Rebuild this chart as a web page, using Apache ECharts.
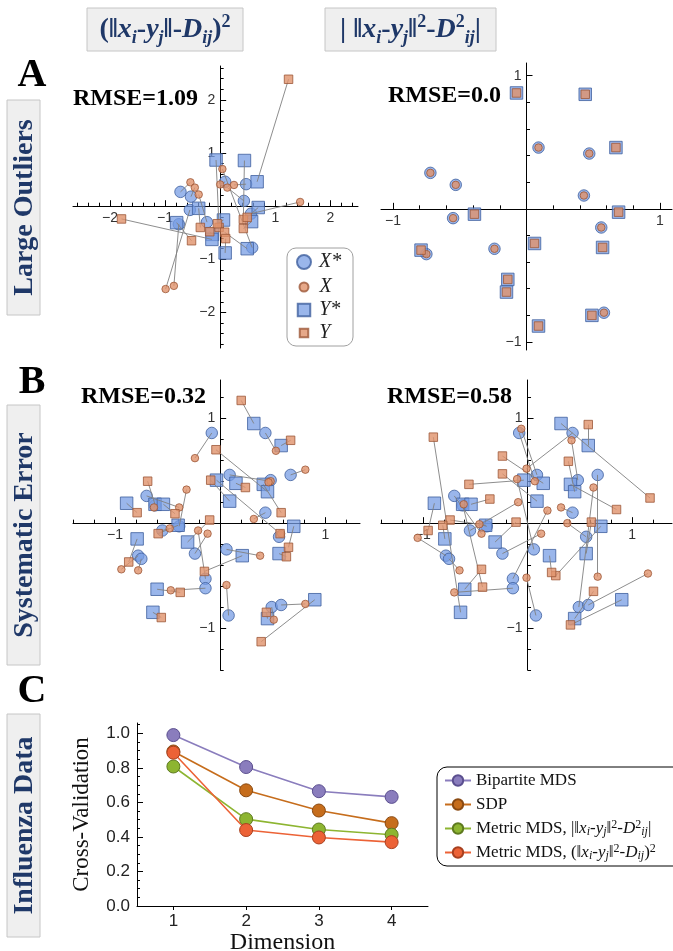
<!DOCTYPE html>
<html>
<head>
<meta charset="utf-8">
<script src="https://cdn.jsdelivr.net/npm/echarts@6.0.0/dist/echarts.min.js"></script>
<style>
html,body{margin:0;padding:0;background:#fff}
#main{width:673px;height:951px}
</style>
</head>
<body>
<div id="main"></div>
<script>
// ---- data ----
// row A: true positions (shared by both panels)
const xTrueA = [[-0.72,0.27],[-0.53,0.18],[0.09,0.46],[0.47,0.415],[0.43,0.10],[-0.55,-0.07],[0.56,-0.14],[-0.24,-0.30],[-0.75,-0.34],[0.58,-0.78]];
const yTrueA = [[-0.075,0.87],[0.44,0.86],[0.67,0.46],[0.69,-0.025],[-0.39,-0.04],[-0.79,-0.31],[0.06,-0.26],[0.57,-0.29],[-0.14,-0.53],[-0.15,-0.625],[0.49,-0.80],[0.09,-0.88]];
// row A left fit (RMSE 1.09), same order as the true points
const xFitA1 = [[-0.54,0.45],[-0.46,0.35],[0.0,0.41],[0.25,0.40],[0.13,0.35],[-0.99,-1.56],[1.45,0.08],[-0.39,0.22],[-0.84,-1.50],[0.04,0.70]];
const yFitA1 = [[-0.02,-0.40],[0.42,-0.25],[1.24,2.39],[0.49,-0.21],[-0.36,-0.40],[-0.52,-0.65],[-0.05,-0.33],[0.42,-0.42],[-0.19,-0.48],[-1.79,-0.24],[0.08,-0.49],[0.10,-0.61]];
// row A right fit (RMSE 0.0) lands on the true points
const xFitA2 = xTrueA;
const yFitA2 = yTrueA;

// row B: true positions
const xTrueB = [[-0.08,0.86],[-0.70,0.26],[-0.39,-0.03],[-0.55,-0.07],[-0.78,-0.31],[-0.75,-0.34],[-0.24,-0.29],[-0.14,-0.53],[-0.14,-0.62],[0.43,0.86],[0.09,0.46],[0.43,0.10],[0.67,0.46],[0.06,-0.25],[0.08,-0.88],[0.49,-0.80],[0.58,-0.78],[0.56,-0.13],[0.48,0.41],[-0.62,0.17]];
const yTrueB = [[-0.89,0.19],[-0.62,0.18],[-0.54,0.18],[-0.40,-0.02],[-0.79,-0.15],[-0.31,-0.18],[-0.60,-0.63],[-0.64,-0.85],[-0.035,0.41],[0.32,0.95],[0.58,0.74],[0.15,0.38],[0.41,0.37],[0.45,0.30],[0.09,0.21],[0.70,-0.03],[0.21,-0.31],[0.56,-0.29],[0.45,-0.91],[0.90,-0.73]];
// row B left fit (RMSE 0.32)
const xFitB1 = [[-0.24,0.62],[-0.39,0.15],[-0.32,0.32],[-0.48,-0.05],[-0.94,-0.44],[-0.78,-0.45],[-0.12,-0.10],[-0.21,-0.07],[-0.47,-0.64],[0.53,0.69],[0.48,0.40],[0.32,0.04],[0.81,0.51],[0.38,-0.31],[0.06,-0.59],[0.51,-0.92],[0.81,-0.77],[0.58,-0.10],[0.46,0.39],[-0.63,0.15]];
const yFitB1 = [[-0.79,0.10],[-0.69,0.40],[-0.43,0.09],[-0.59,-0.10],[-0.87,-0.37],[-0.10,0.03],[-0.38,-0.66],[-0.56,-0.90],[0.57,-0.10],[0.20,1.17],[0.67,0.79],[0.24,0.34],[0.58,0.10],[-0.04,0.70],[-0.09,0.41],[0.65,-0.23],[-0.15,-0.46],[0.63,-0.32],[0.44,-0.85],[0.39,-1.13]];
// row B right fit (RMSE 0.58)
const xFitB2 = [[0.07,0.40],[-0.44,-0.10],[-0.46,-0.01],[-0.09,0.20],[-1.05,-0.14],[-0.65,-0.45],[0.13,-0.10],[0.19,0.12],[-0.70,-0.66],[-0.01,0.52],[-0.06,0.90],[0.32,0.15],[0.67,-0.51],[-0.10,0.42],[-0.01,-0.52],[0.63,0.34],[1.15,-0.48],[0.38,0.00],[0.42,0.79],[-0.61,0.18]];
const yFitB2 = [[-0.95,-0.07],[-0.43,-0.61],[-0.36,0.23],[-0.74,0.03],[-0.81,-0.02],[-0.11,0.01],[-0.44,-0.44],[-0.90,0.82],[-0.56,0.37],[1.17,0.24],[0.58,0.94],[-0.24,0.64],[0.85,0.13],[0.39,0.59],[-0.24,0.47],[0.27,-0.50],[0.23,-0.47],[0.61,0.01],[0.63,-0.65],[0.41,-0.97]];

const rmseLabels = ['RMSE=1.09', 'RMSE=0.0', 'RMSE=0.32', 'RMSE=0.58'];
const tickLblA1 = [-2, -1, 1, 2];
const tickLblUnit = [-1, 1];

// row C: cross-validation vs dimension
const dims = [1, 2, 3, 4];
const cvBipartite = [0.99, 0.805, 0.665, 0.632];
const cvSDP = [0.895, 0.67, 0.553, 0.48];
const cvMetricAbs = [0.808, 0.503, 0.443, 0.413];
const cvMetricSq = [0.888, 0.44, 0.397, 0.37];
const cvTicks = [0, 0.2, 0.4, 0.6, 0.8, 1.0];
const methods = ['Bipartite MDS', 'SDP', 'Metric MDS, |‖xi-yj‖²-Dij²|', 'Metric MDS, (‖xi-yj‖²-Dij)²'];

// ---- helpers ----
const steps = (a, b, d) => { const r = []; for (let v = a; v <= b + 1e-9; v += d) r.push(+v.toFixed(2)); return r; };
const fmtTick = v => v < 0 ? '\u2212' + (-v) : String(v);
const navy = '#1f3868';
const serif = '"Liberation Serif", "DejaVu Serif", serif';
const blue = {color: 'rgba(118,156,228,0.92)', borderColor: '#3f5f9e', borderWidth: 1};
const orange = {color: '#e0926c', borderColor: '#9c5738', borderWidth: 1};

const panels = [
  {grid: {left: 73, top: 66, width: 285, height: 282}, x: [-2.67, 2.5], y: [-2.67, 2.64], lbl: tickLblA1,
   mx: steps(-2.6, 2.4, 0.2), my: steps(-2.6, 2.6, 0.2), xt: xTrueA, yt: yTrueA, xf: xFitA1, yf: yFitA1},
  {grid: {left: 381, top: 63, width: 291, height: 287}, x: [-1.09, 1.09], y: [-1.06, 1.095], lbl: tickLblUnit,
   mx: steps(-1, 1, 0.2), my: steps(-1, 1, 0.2), xt: xTrueA, yt: yTrueA, xf: xFitA2, yf: yFitA2},
  {grid: {left: 73, top: 380, width: 287, height: 290}, x: [-1.4, 1.33], y: [-1.4, 1.365], lbl: tickLblUnit,
   mx: steps(-1.4, 1.2, 0.2), my: steps(-1.4, 1.2, 0.2), xt: xTrueB, yt: yTrueB, xf: xFitB1, yf: yFitB1},
  {grid: {left: 381, top: 380, width: 291, height: 290}, x: [-1.4, 1.38], y: [-1.4, 1.365], lbl: tickLblUnit,
   mx: steps(-1.4, 1.2, 0.2), my: steps(-1.4, 1.2, 0.2), xt: xTrueB, yt: yTrueB, xf: xFitB2, yf: yFitB2}
];

// axes cross at the origin: shift each axis from its grid edge to where the other axis is 0
const zeroShift = (range, size) => -(0 - range[0]) / (range[1] - range[0]) * size;

function mainAxis(i, range, lbl, shift) {
  return {
    type: 'value', gridIndex: i, min: range[0], max: range[1], offset: shift,
    axisLine: {show: true, onZero: false, lineStyle: {color: '#000', width: 1}},
    axisTick: {show: true, inside: true, length: 6, customValues: lbl, lineStyle: {color: '#000', width: 1}},
    axisLabel: {show: true, customValues: lbl, formatter: fmtTick, color: '#333', fontSize: 14, fontFamily: 'Liberation Sans', margin: 5},
    splitLine: {show: false}
  };
}
function minorAxis(i, range, ticks, shift) {
  return {
    type: 'value', gridIndex: i, min: range[0], max: range[1], offset: shift,
    axisLine: {show: true, onZero: false, lineStyle: {opacity: 0}},
    axisTick: {show: true, inside: true, length: 3.5, customValues: ticks, lineStyle: {color: '#000', width: 1}},
    axisLabel: {show: false}, splitLine: {show: false}
  };
}

const grids = [], xAxes = [], yAxes = [], series = [];
panels.forEach((p, i) => {
  grids[i] = Object.assign({containLabel: false, outerBoundsMode: 'none'}, p.grid);
  grids[i + 5] = Object.assign({containLabel: false, outerBoundsMode: 'none'}, p.grid);
  const sx = zeroShift(p.y, p.grid.height);   // x axis sits at y = 0
  const sy = zeroShift(p.x, p.grid.width);    // y axis sits at x = 0
  xAxes[i] = mainAxis(i, p.x, p.lbl, sx);
  yAxes[i] = mainAxis(i, p.y, p.lbl, sy);
  xAxes[i + 5] = minorAxis(i + 5, p.x, p.mx, sx);
  yAxes[i + 5] = minorAxis(i + 5, p.y, p.my, sy);

  const links = [];
  p.xt.forEach((t, k) => links.push({coords: [p.xf[k], t]}));
  p.yt.forEach((t, k) => links.push({coords: [p.yf[k], t]}));
  const drawn = links.filter(l => Math.hypot(l.coords[0][0] - l.coords[1][0], l.coords[0][1] - l.coords[1][1]) > 1e-6);

  series.push({type: 'scatter', name: 'X*', xAxisIndex: i, yAxisIndex: i, symbol: 'circle', symbolSize: 11.5, data: p.xt, itemStyle: blue, z: 2});
  series.push({type: 'scatter', name: 'Y*', xAxisIndex: i, yAxisIndex: i, symbol: 'rect', symbolSize: 12.5, data: p.yt, itemStyle: blue, z: 2});
  series.push({type: 'lines', coordinateSystem: 'cartesian2d', xAxisIndex: i, yAxisIndex: i, silent: true, z: 3,
    lineStyle: {color: '#808080', width: 0.9, opacity: 1, curveness: 0}, data: drawn});
  series.push({type: 'scatter', name: 'X', xAxisIndex: i, yAxisIndex: i, symbol: 'circle', symbolSize: 7.5, data: p.xf, itemStyle: orange, z: 4});
  series.push({type: 'scatter', name: 'Y', xAxisIndex: i, yAxisIndex: i, symbol: 'rect', symbolSize: 8.5, data: p.yf, itemStyle: orange, z: 4});
});

// row C grid (index 4) and its minor-tick overlay (index 9)
const gridC = {left: 137, top: 723, width: 291, height: 183};
grids[4] = Object.assign({containLabel: false, outerBoundsMode: 'none'}, gridC);
grids[9] = Object.assign({containLabel: false, outerBoundsMode: 'none'}, gridC);
xAxes[4] = {
  type: 'value', gridIndex: 4, min: 0.5, max: 4.5,
  axisLine: {show: true, onZero: false, lineStyle: {color: '#000', width: 1}},
  axisTick: {show: true, inside: false, length: 4, customValues: dims, lineStyle: {color: '#000'}},
  axisLabel: {show: true, customValues: dims, color: '#222', fontSize: 17, fontFamily: 'Liberation Sans', margin: 7},
  splitLine: {show: false},
  name: 'Dimension', nameLocation: 'middle', nameGap: 23,
  nameTextStyle: {fontFamily: serif, fontSize: 24, color: '#111'}
};
yAxes[4] = {
  type: 'value', gridIndex: 4, min: 0, max: 1.06,
  axisLine: {show: true, onZero: false, lineStyle: {color: '#000', width: 1}},
  axisTick: {show: true, inside: true, length: 6, customValues: cvTicks, lineStyle: {color: '#000'}},
  axisLabel: {show: true, customValues: cvTicks, formatter: v => v.toFixed(1), color: '#222', fontSize: 17, fontFamily: 'Liberation Sans', margin: 7},
  splitLine: {show: false},
  name: 'Cross-Validation', nameLocation: 'middle', nameGap: 44,
  nameTextStyle: {fontFamily: serif, fontSize: 23, color: '#111'}
};
xAxes[9] = {type: 'value', gridIndex: 9, min: 0.5, max: 4.5, show: false};
yAxes[9] = {
  type: 'value', gridIndex: 9, min: 0, max: 1.06,
  axisLine: {show: true, onZero: false, lineStyle: {opacity: 0}},
  axisTick: {show: true, inside: true, length: 3, customValues: steps(0.05, 1.05, 0.05), lineStyle: {color: '#000'}},
  axisLabel: {show: false}, splitLine: {show: false}
};

const cvSets = [
  {name: methods[0], vals: cvBipartite, color: '#8a7dbd', edge: '#5b4f8f'},
  {name: methods[1], vals: cvSDP, color: '#c66d1c', edge: '#8a4a12'},
  {name: methods[2], vals: cvMetricAbs, color: '#8db531', edge: '#5e7a1f'},
  {name: methods[3], vals: cvMetricSq, color: '#ec6236', edge: '#a8401f'}
];
cvSets.forEach(s => {
  series.push({
    type: 'line', name: s.name, xAxisIndex: 4, yAxisIndex: 4,
    data: dims.map((d, k) => [d, s.vals[k]]),
    symbol: 'circle', symbolSize: 13,
    lineStyle: {color: s.color, width: 1.6},
    itemStyle: {color: s.color, borderColor: s.edge, borderWidth: 1}
  });
});

const legendRich = {
  it: {fontFamily: serif, fontStyle: 'italic', fontSize: 17, lineHeight: 19, color: '#111'},
  sub: {fontFamily: serif, fontStyle: 'italic', fontSize: 12, lineHeight: 8, verticalAlign: 'bottom', color: '#111'},
  sup: {fontFamily: serif, fontSize: 12, lineHeight: 8, verticalAlign: 'top', color: '#111'},
  n: {fontFamily: serif, fontSize: 17, lineHeight: 19, color: '#111'}
};
const legendText = {};
legendText[methods[0]] = '{n|Bipartite MDS}';
legendText[methods[1]] = '{n|SDP}';
legendText[methods[2]] = '{n|Metric MDS, |‖}{it|x}{sub|i}{n|-}{it|y}{sub|j}{n|‖}{sup|2}{n|-}{it|D}{sup|2}{sub|ij}{n||}';
legendText[methods[3]] = '{n|Metric MDS, (‖}{it|x}{sub|i}{n|-}{it|y}{sub|j}{n|‖}{sup|2}{n|-}{it|D}{sub|ij}{n|)}{sup|2}';

// legend of the outlier panel: one small legend per row so sizes can differ
const keyRows = [
  {name: 'X*', icon: 'circle', w: 14, cy: 262, pad: 3},
  {name: 'X', icon: 'circle', w: 9, cy: 287, pad: 6},
  {name: 'Y*', icon: 'rect', w: 12.5, cy: 310, pad: 4},
  {name: 'Y', icon: 'rect', w: 8.5, cy: 333, pad: 6}
];
const legends = keyRows.map(r => ({
  data: [{name: r.name, icon: r.icon}], selectedMode: false, orient: 'horizontal',
  left: 303 - r.w / 2, top: r.cy - 10, padding: 0, itemWidth: r.w, itemHeight: r.w,
  textStyle: {fontFamily: serif, fontStyle: 'italic', fontSize: 20, lineHeight: 20, color: '#222', padding: [0, 0, 0, r.pad]}
}));
legends.push({
  data: methods, selectedMode: false, orient: 'vertical', left: 437, top: 767,
  padding: [4, 40, 4, 7], itemGap: 5, itemWidth: 26, itemHeight: 13,
  borderColor: '#000', borderWidth: 1, borderRadius: 10, backgroundColor: '#fff',
  formatter: name => legendText[name],
  textStyle: {fontFamily: serif, fontSize: 17, lineHeight: 19, color: '#111', rich: legendRich}
});

// headings and labels around the panels
const hdrRich = {
  n: {font: 'bold 28px ' + serif, fill: navy, lineHeight: 34},
  i: {font: 'italic bold 28px ' + serif, fill: navy, lineHeight: 34},
  s: {font: 'italic bold 18px ' + serif, fill: navy, lineHeight: 12, verticalAlign: 'bottom'},
  p: {font: 'bold 18px ' + serif, fill: navy, lineHeight: 14, verticalAlign: 'top'}
};
const colHeads = [
  {x: 87, w: 156, text: '{n|(‖}{i|x}{s|i}{n|-}{i|y}{s|j}{n|‖-}{i|D}{s|ij}{n|)}{p|2}'},
  {x: 325, w: 171, text: '{n|| ‖}{i|x}{s|i}{n|-}{i|y}{s|j}{n|‖}{p|2}{n|-}{i|D}{p|2}{s|ij}{n||}'}
];
const rowHeads = [
  {y: 100, h: 215, text: 'Large Outliers'},
  {y: 405, h: 260, text: 'Systematic Error'},
  {y: 714, h: 223, text: 'Influenza Data'}
];
const rowLetters = [{t: 'A', y: 76}, {t: 'B', y: 383}, {t: 'C', y: 692}];
const rmsePos = [[73, 99], [388, 96], [81, 397], [387, 397]];

const graphics = [];
colHeads.forEach(h => {
  graphics.push({type: 'rect', shape: {x: h.x, y: 8, width: h.w, height: 43}, style: {fill: '#efefef', stroke: '#c6c6c6', lineWidth: 1}});
  graphics.push({type: 'text', x: h.x + h.w / 2, y: 30, style: {text: h.text, rich: hdrRich, font: 'bold 28px ' + serif, fill: navy,
    align: 'center', verticalAlign: 'middle', textAlign: 'center', textVerticalAlign: 'middle'}});
});
rowHeads.forEach(r => {
  graphics.push({type: 'rect', shape: {x: 7, y: r.y, width: 33, height: r.h}, style: {fill: '#efefef', stroke: '#c6c6c6', lineWidth: 1}});
  graphics.push({type: 'text', x: 24.5, y: r.y + r.h / 2, rotation: Math.PI / 2, style: {text: r.text, font: 'bold 28px ' + serif, fill: navy,
    align: 'center', verticalAlign: 'middle', textAlign: 'center', textVerticalAlign: 'middle'}});
});
rowLetters.forEach(l => {
  graphics.push({type: 'text', x: 32, y: l.y, style: {text: l.t, font: 'bold 40px ' + serif, fill: '#000',
    align: 'center', verticalAlign: 'middle', textAlign: 'center', textVerticalAlign: 'middle'}});
});
rmseLabels.forEach((t, i) => {
  graphics.push({type: 'text', x: rmsePos[i][0], y: rmsePos[i][1], z: 10, style: {text: t, font: 'bold 24px ' + serif, fill: '#000',
    align: 'left', verticalAlign: 'middle', textAlign: 'left', textVerticalAlign: 'middle'}});
});
// frame of the outlier legend
graphics.push({type: 'rect', z: 1, shape: {x: 287, y: 248, width: 66, height: 98, r: 9}, style: {fill: '#fff', stroke: '#a0a0a0', lineWidth: 1}});

const chart = echarts.init(document.getElementById('main'));
chart.setOption({
  backgroundColor: '#fff',
  animation: false,
  grid: grids,
  xAxis: xAxes,
  yAxis: yAxes,
  legend: legends,
  graphic: graphics,
  series: series
});
</script>
</body>
</html>
